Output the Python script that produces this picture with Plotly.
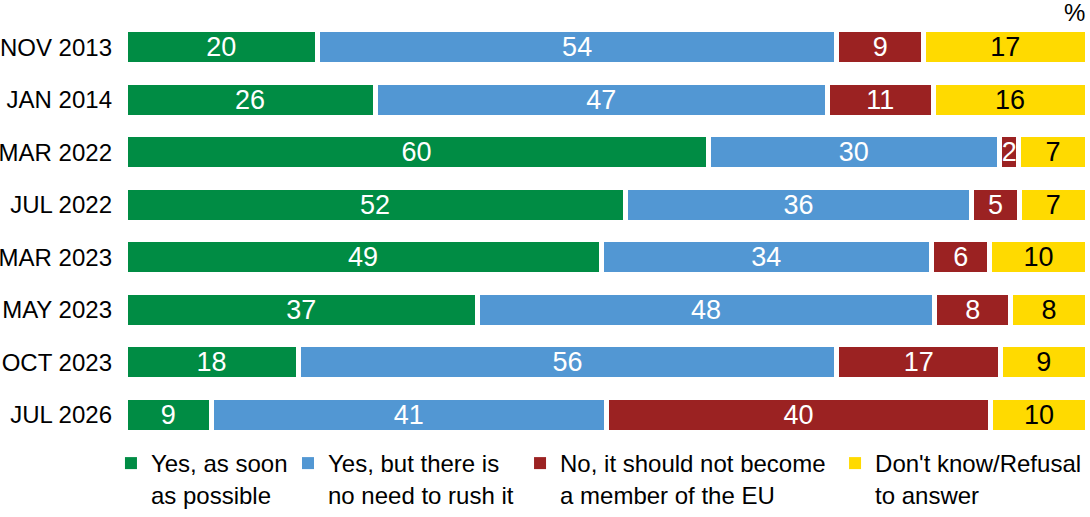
import plotly.graph_objects as go

# survey waves (top to bottom)
waves = ["NOV 2013", "JAN 2014", "MAR 2022", "JUL 2022",
         "MAR 2023", "MAY 2023", "OCT 2023", "JUL 2026"]

# answers, % per wave
yes_soon = [20, 26, 60, 52, 49, 37, 18, 9]
yes_no_rush = [54, 47, 30, 36, 34, 48, 56, 41]
no_never = [9, 11, 2, 5, 6, 8, 17, 40]
dont_know = [17, 16, 7, 7, 10, 8, 9, 10]

series = [
    ("Yes, as soon<br>as possible", yes_soon, "#008C44", "white"),
    ("Yes, but there is<br>no need to rush it", yes_no_rush, "#5297D3", "white"),
    ("No, it should not become<br>a member of the EU", no_never, "#9B2222", "white"),
    ("Don't know/Refusal<br>to answer", dont_know, "#FFDA00", "black"),
]

FONT = "Arial, Liberation Sans, sans-serif"
legend_ids = ["legend", "legend2", "legend3", "legend4"]
legend_x = [0.1018, 0.2642, 0.4771, 0.7661]

fig = go.Figure()
for name, vals, col, txtcol in series:
    fig.add_trace(go.Bar(
        y=waves, x=vals, name=name, orientation="h", legendgroup=name,
        marker=dict(color=col, line=dict(color="white", width=5)),
        text=vals, texttemplate="%{text}",
        textposition="inside", insidetextanchor="middle",
        textangle=0, constraintext="none",
        textfont=dict(family=FONT, size=27, color=txtcol),
        hoverinfo="name+text", showlegend=False,
    ))
# legend entries without the white outline so the squares stay full size
for (name, vals, col, txtcol), lid in zip(series, legend_ids):
    fig.add_trace(go.Bar(
        y=[None], x=[None], name=name, orientation="h", legendgroup=name,
        marker=dict(color=col, line=dict(width=0)), showlegend=True,
        legend=lid,
    ))

fig.update_layout(
    barmode="stack", barnorm="percent", bargap=0.33,
    width=1090, height=517,
    margin=dict(l=125, r=3, t=21, b=76),
    plot_bgcolor="white", paper_bgcolor="white",
    font=dict(family=FONT, size=24, color="black"),
    uniformtext=dict(minsize=27, mode="show"),
    xaxis=dict(range=[0, 100], visible=False),
    yaxis=dict(autorange="reversed", showgrid=False, showline=False,
               automargin=False, ticklabelstandoff=12,
               tickfont=dict(size=24)),
    showlegend=True,
)
for lid, lx in zip(legend_ids, legend_x):
    fig.update_layout({lid: dict(
        orientation="h", xref="container", x=lx, xanchor="left",
        yref="container", y=0, yanchor="bottom", valign="top",
        font=dict(size=24), bgcolor="rgba(0,0,0,0)")})

fig.add_annotation(text="%", xref="paper", yref="paper", x=1, y=1,
                   xanchor="right", yanchor="bottom", yshift=-7,
                   showarrow=False, font=dict(size=24))

fig.write_html("out.html", config={"displayModeBar": False},
               post_script="document.body.style.margin = '0';")
